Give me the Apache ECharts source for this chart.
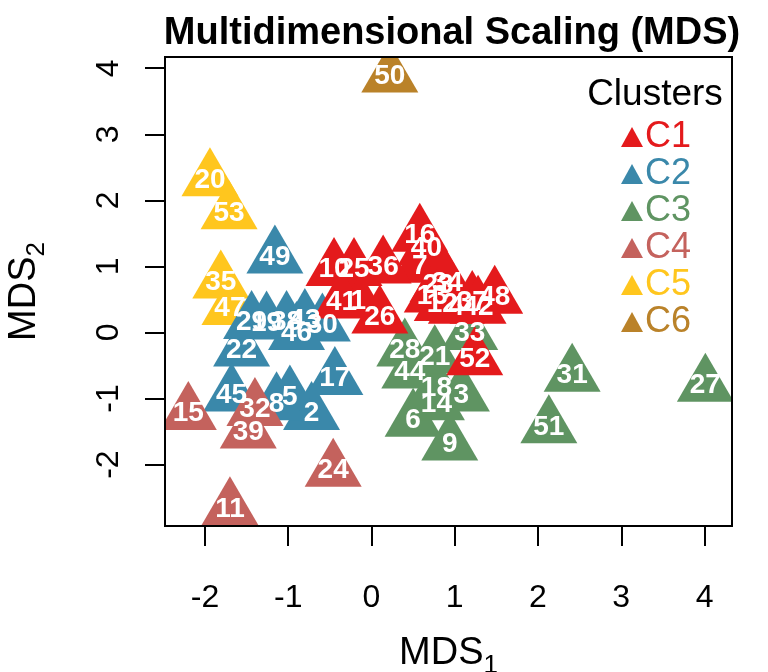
<!DOCTYPE html>
<html>
<head>
<meta charset="utf-8">
<script src="https://cdn.jsdelivr.net/npm/echarts@6/dist/echarts.min.js"></script>
<style>html,body{margin:0;padding:0;background:#fff}#c{width:768px;height:672px}</style>
</head>
<body>
<div id="c"></div>
<script>
// ---- data ----
const xTicks = [-2, -1, 0, 1, 2, 3, 4];
const yTicks = [-2, -1, 0, 1, 2, 3, 4];
const clusterNames = ['C1', 'C2', 'C3', 'C4', 'C5', 'C6'];
const clusterColors = ['#E41A1C', '#3A88AA', '#5F9462', '#C4625D', '#FFC61E', '#BA8229'];

const c1Ids = [1, 4, 7, 10, 12, 13, 16, 23, 25, 26, 34, 36, 37, 40, 41, 42, 48, 52];
const c1X = [-0.16, 1.02, 0.58, -0.45, 0.85, 0.73, 0.58, 0.80, -0.21, 0.10, 0.91, 0.14, 1.21, 0.66, -0.36, 1.28, 1.48, 1.24];
const c1Y = [0.47, 0.38, 1.00, 0.95, 0.42, 0.55, 1.47, 0.71, 0.95, 0.23, 0.74, 0.99, 0.45, 1.27, 0.46, 0.38, 0.53, -0.40];

const c2Ids = [2, 5, 8, 17, 19, 22, 29, 30, 38, 43, 45, 46, 49];
const c2X = [-0.72, -0.98, -1.14, -0.44, -1.26, -1.56, -1.44, -0.59, -1.02, -0.80, -1.68, -0.90, -1.16];
const c2Y = [-1.23, -0.98, -1.08, -0.70, 0.14, -0.27, 0.15, 0.11, 0.15, 0.18, -0.95, -0.02, 1.14];

const c3Ids = [3, 6, 9, 14, 18, 21, 27, 28, 31, 33, 44, 51];
const c3X = [1.08, 0.50, 0.94, 0.78, 0.78, 0.76, 4.01, 0.40, 2.41, 1.18, 0.46, 2.13];
const c3Y = [-0.95, -1.33, -1.69, -1.08, -0.85, -0.37, -0.80, -0.27, -0.65, -0.02, -0.60, -1.43];

const c4Ids = [11, 15, 24, 32, 39];
const c4X = [-1.70, -2.20, -0.46, -1.40, -1.48];
const c4Y = [-2.67, -1.23, -2.09, -1.17, -1.51];

const c5Ids = [20, 35, 47, 53];
const c5X = [-1.94, -1.81, -1.70, -1.71];
const c5Y = [2.31, 0.76, 0.36, 1.81];

const c6Ids = [50];
const c6X = [0.22];
const c6Y = [3.88];

// ---- build ----
const FONT = 'Liberation Sans, Arial, sans-serif';
const G = { left: 165, right: 36, top: 57, bottom: 146 };
const clusters = [
  { ids: c1Ids, x: c1X, y: c1Y },
  { ids: c2Ids, x: c2X, y: c2Y },
  { ids: c3Ids, x: c3X, y: c3Y },
  { ids: c4Ids, x: c4X, y: c4Y },
  { ids: c5Ids, x: c5X, y: c5Y },
  { ids: c6Ids, x: c6X, y: c6Y }
];
const drawOrder = [4, 1, 3, 2, 0, 5];
const SW = 57, SH = 49;
const series = drawOrder.map(function (k) {
  const c = clusters[k];
  return {
    name: clusterNames[k],
    type: 'scatter',
    symbol: 'triangle',
    symbolSize: [SW, SH],
    symbolOffset: [0, -SH / 6],
    itemStyle: { color: clusterColors[k], opacity: 1 },
    label: {
      show: true, position: 'inside', offset: [0, SH / 6],
      formatter: function (p) { return String(p.value[2]); },
      color: '#fff', fontWeight: 'bold', fontSize: 28, fontFamily: FONT
    },
    emphasis: { disabled: true },
    data: c.ids.map(function (id, i) { return [c.x[i], c.y[i], id]; })
  };
});

const chart = echarts.init(document.getElementById('c'), null, { renderer: 'canvas' });
chart.setOption({
  animation: false,
  backgroundColor: '#fff',
  title: [
    { text: 'Multidimensional Scaling (MDS)', left: 447, textAlign: 'center', top: 10, z: 20,
      textStyle: { fontFamily: FONT, fontWeight: 'bold', fontSize: 38, color: '#000' } },
    { text: 'Clusters', left: 650, textAlign: 'center', top: 71, z: 20,
      textStyle: { fontFamily: FONT, fontWeight: 'normal', fontSize: 37, color: '#000' } }
  ],
  legend: {
    orient: 'vertical', left: 616, top: 114, icon: 'triangle',
    itemWidth: 22, itemHeight: 20, itemGap: 1, selectedMode: false, z: 20,
    textStyle: { fontFamily: FONT, fontSize: 36, lineHeight: 32, padding: [0, 0, 0, -3] },
    data: clusterNames.map(function (n, i) { return { name: n, itemStyle: { color: clusterColors[i] }, textStyle: { color: clusterColors[i] } }; })
  },
  grid: { left: G.left, right: G.right, top: G.top, bottom: G.bottom, show: true, borderColor: '#000', borderWidth: 2, z: 15,
    containLabel: false, outerBoundsMode: 'none' },
  xAxis: {
    type: 'value', min: -2.48, max: 4.33, z: 20,
    name: '{a|MDS}{b|1}', nameLocation: 'middle', nameGap: 109,
    nameTextStyle: { rich: {
      a: { fontFamily: FONT, fontSize: 38, color: '#000', verticalAlign: 'bottom', padding: [0, 0, 6, 0] },
      b: { fontFamily: FONT, fontSize: 26, color: '#000', verticalAlign: 'bottom' } } },
    axisLine: { show: false, onZero: false },
    axisTick: { show: true, length: 20, lineStyle: { color: '#000', width: 2 }, customValues: xTicks },
    axisLabel: { fontFamily: FONT, fontSize: 32, color: '#000', margin: 56, customValues: xTicks },
    splitLine: { show: false }
  },
  yAxis: {
    type: 'value', min: -2.93, max: 4.17, z: 20,
    name: '{a|MDS}{b|2}', nameLocation: 'middle', nameGap: 115, nameRotate: 90,
    nameTextStyle: { rich: {
      a: { fontFamily: FONT, fontSize: 38, color: '#000', verticalAlign: 'bottom', padding: [0, 0, 6, 0] },
      b: { fontFamily: FONT, fontSize: 26, color: '#000', verticalAlign: 'bottom' } } },
    axisLine: { show: false, onZero: false },
    axisTick: { show: true, length: 20, lineStyle: { color: '#000', width: 2 }, customValues: yTicks },
    axisLabel: { fontFamily: FONT, fontSize: 32, color: '#000', margin: 40, rotate: 90, customValues: yTicks },
    splitLine: { show: false }
  },
  graphic: [
    { type: 'rect', z: 10, silent: true, shape: { x: 0, y: 0, width: 768, height: G.top }, style: { fill: '#fff' } },
    { type: 'rect', z: 10, silent: true, shape: { x: 0, y: 672 - G.bottom, width: 768, height: G.bottom }, style: { fill: '#fff' } },
    { type: 'rect', z: 10, silent: true, shape: { x: 0, y: 0, width: G.left, height: 672 }, style: { fill: '#fff' } },
    { type: 'rect', z: 10, silent: true, shape: { x: 768 - G.right, y: 0, width: G.right, height: 672 }, style: { fill: '#fff' } }
  ],
  series: series
});
</script>
</body>
</html>
